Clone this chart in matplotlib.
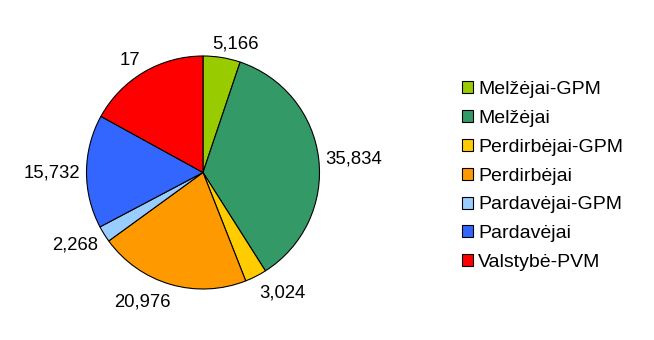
import numpy as np
import matplotlib
matplotlib.use("Agg")
import matplotlib.pyplot as plt
from matplotlib.patches import Patch

categories = ["Melžėjai-GPM", "Melžėjai", "Perdirbėjai-GPM", "Perdirbėjai",
              "Pardavėjai-GPM", "Pardavėjai", "Valstybė-PVM"]
values = [5.166, 35.834, 3.024, 20.976, 2.268, 15.732, 17]
value_labels = ["5,166", "35,834", "3,024", "20,976", "2,268", "15,732", "17"]
colors = ["#99CC00", "#339966", "#FFCC00", "#FF9900", "#99CCFF", "#3366FF", "#FF0000"]

plt.rcParams['font.family'] = ['Liberation Sans', 'DejaVu Sans']
FS_LAB = 13.3
FS_LEG = 14

W, H = 654, 340
fig = plt.figure(figsize=(W / 100, H / 100), dpi=100)
cx, cy, rpx = 203, 340 - 172.5, 116.5
half = 150
ax = fig.add_axes([(cx - half) / W, (cy - half) / H, 2 * half / W, 2 * half / H])
lim = half / rpx
ax.set_aspect('equal')
ax.axis('off')

wedges, _ = ax.pie(values, colors=colors, startangle=90, counterclock=False,
                   wedgeprops=dict(edgecolor='black', linewidth=0.8))
ax.set_xlim(-lim, lim)
ax.set_ylim(-lim, lim)

texts = []
for w, lab in zip(wedges, value_labels):
    t = ax.text(0, 0, lab, fontsize=FS_LAB, ha='center', va='center')
    texts.append(t)
fig.canvas.draw()
r = fig.canvas.get_renderer()
gap = 6.5
for w, t in zip(wedges, texts):
    th = np.deg2rad((w.theta1 + w.theta2) / 2)
    c, s = np.cos(th), np.sin(th)
    bb = t.get_window_extent(r)
    fx = np.clip(c / 0.3, -1, 1)
    fy = np.clip(1.15 * s, -1.1, 1.1)
    dx = rpx * c + gap * c + fx * bb.width / 2
    dy = rpx * s + gap * s + fy * bb.height / 2 - 2
    t.set_position((dx / rpx, dy / rpx))

handles = [Patch(facecolor=c, edgecolor='black', linewidth=0.8) for c in colors]
fig.legend(handles, categories, loc='upper left', bbox_to_anchor=(462 / W, 1 - 81 / H),
           frameon=False, fontsize=FS_LEG, handlelength=0.57, handleheight=0.57,
           handletextpad=0.26, labelspacing=0.61, borderpad=0, borderaxespad=0)

fig.savefig("out.png", dpi=100)
